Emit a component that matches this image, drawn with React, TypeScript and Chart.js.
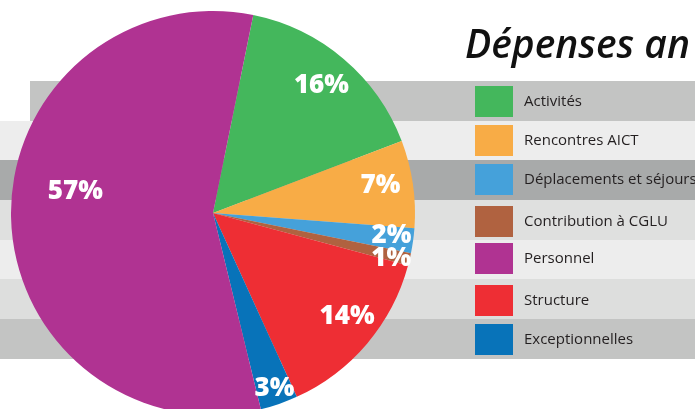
import React, { useEffect, useRef } from "react";
import { Chart, registerables } from "chart.js";

Chart.register(...registerables);

// Pie data (clockwise order as drawn)
const categories = [
  "Activités",
  "Rencontres AICT",
  "Déplacements et séjours",
  "Contribution à CGLU",
  "Structure",
  "Exceptionnelles",
  "Personnel",
];
const values = [16, 7, 2, 1, 14, 3, 57];
const colors = ["#44b75c", "#f8ac46", "#45a1da", "#b06240", "#ee2e34", "#0873b9", "#b03392"];
const percentLabels = ["16%", "7%", "2%", "1%", "14%", "3%", "57%"];

// Legend order as shown
const legendOrder = [
  "Activités",
  "Rencontres AICT",
  "Déplacements et séjours",
  "Contribution à CGLU",
  "Personnel",
  "Structure",
  "Exceptionnelles",
];
const titleText = "Dépenses an";

// Styling
const labelRadius = [0.83, 0.84, 0.89, 0.91, 0.84, 0.92, 0.69];
const labelShiftDeg = [0, -1, -0.7, 1, -2.5, -0.2, 10];
const bands = [
  { x: 30, y: 81, h: 40, c: "#c3c4c3" },
  { x: 0, y: 121, h: 39, c: "#ededed" },
  { x: 0, y: 160, h: 40, c: "#a8aaaa" },
  { x: 0, y: 200, h: 40, c: "#dfe0df" },
  { x: 0, y: 240, h: 39, c: "#ededed" },
  { x: 0, y: 279, h: 40, c: "#dddedd" },
  { x: 0, y: 319, h: 40, c: "#c3c4c3" },
];
const legendTops = [86, 125, 164, 206, 243, 285, 324];

const decorPlugin = {
  id: "decor",
  beforeDraw(chart: any) {
    const ctx = chart.ctx;
    ctx.save();
    bands.forEach((b) => {
      ctx.fillStyle = b.c;
      ctx.fillRect(b.x, b.y, chart.width - b.x, b.h);
    });
    ctx.restore();
  },
  afterDatasetsDraw(chart: any) {
    const ctx = chart.ctx;
    const meta = chart.getDatasetMeta(0);
    ctx.save();
    ctx.fillStyle = "#ffffff";
    ctx.font = "800 26px 'Open Sans', sans-serif";
    ctx.textAlign = "center";
    ctx.textBaseline = "middle";
    meta.data.forEach((arc: any, i: number) => {
      const p = arc.getProps(["x", "y", "startAngle", "endAngle", "outerRadius"], true);
      const mid = (p.startAngle + p.endAngle) / 2 + (labelShiftDeg[i] * Math.PI) / 180;
      const r = p.outerRadius * labelRadius[i];
      ctx.fillText(percentLabels[i], p.x + Math.cos(mid) * r, p.y + Math.sin(mid) * r);
    });
    ctx.restore();
  },
  afterDraw(chart: any) {
    const ctx = chart.ctx;
    ctx.save();
    ctx.fillStyle = "#111111";
    ctx.font = "italic 600 39px 'Open Sans', sans-serif";
    ctx.textAlign = "left";
    ctx.textBaseline = "alphabetic";
    ctx.fillText(titleText, 465, 58);

    ctx.font = "15px 'Open Sans', sans-serif";
    ctx.textBaseline = "middle";
    legendOrder.forEach((name, k) => {
      const i = categories.indexOf(name);
      const top = legendTops[k];
      ctx.fillStyle = colors[i];
      ctx.fillRect(475, top, 38, 31);
      ctx.fillStyle = "#231f20";
      ctx.fillText(name, 524, top + 16);
    });
    ctx.restore();
  },
};

export default function App() {
  const ref = useRef<HTMLCanvasElement>(null);
  useEffect(() => {
    if (!ref.current) return;
    const chart = new Chart(ref.current, {
      type: "pie",
      data: {
        labels: categories,
        datasets: [
          {
            data: values,
            backgroundColor: colors,
            borderWidth: 0,
          },
        ],
      },
      options: {
        responsive: false,
        animation: false,
        rotation: 11.5,
        layout: { padding: { left: 11, top: 11, right: 280, bottom: 15 } },
        plugins: {
          legend: { display: false },
          tooltip: { enabled: false },
          title: { display: false },
        },
      },
      plugins: [decorPlugin],
    });
    return () => chart.destroy();
  }, []);
  return (
    <div
      style={{
        position: "fixed",
        left: 0,
        top: 0,
        width: 695,
        height: 409,
        overflow: "hidden",
        background: "#ffffff",
      }}
    >
      <canvas ref={ref} width={695} height={430} style={{ display: "block", width: 695, height: 430 }} />
    </div>
  );
}
